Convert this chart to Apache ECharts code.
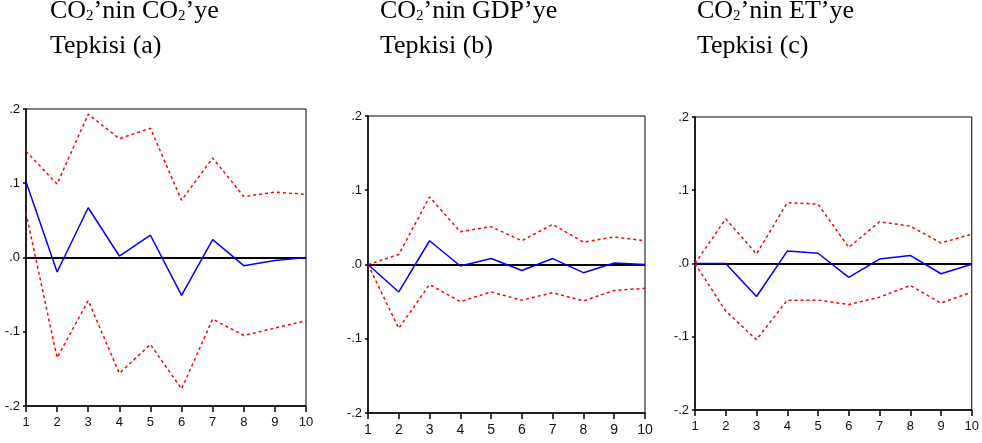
<!DOCTYPE html>
<html><head><meta charset="utf-8">
<script src="https://cdn.jsdelivr.net/npm/echarts@6/dist/echarts.min.js"></script>
<style>html,body{margin:0;padding:0;background:#fff}#c{width:982px;height:443px}</style>
</head><body><div id="c"></div>
<script>
const periods = ['1','2','3','4','5','6','7','8','9','10'];
const yTicks = [-0.2,-0.1,0,0.1,0.2];

// Panel (a): CO2 -> CO2
const respA  = [0.102,-0.0195,0.067,0.002,0.030,-0.051,0.024,-0.011,-0.004,0.000];
const upperA = [0.143,0.099,0.193,0.160,0.174,0.077,0.134,0.082,0.088,0.085];
const lowerA = [0.060,-0.135,-0.058,-0.156,-0.117,-0.177,-0.083,-0.105,-0.095,-0.085];
// Panel (b): CO2 -> GDP
const respB  = [0.000,-0.037,0.032,-0.002,0.008,-0.008,0.008,-0.011,0.002,0.000];
const upperB = [0.000,0.0135,0.091,0.044,0.051,0.032,0.054,0.030,0.037,0.032];
const lowerB = [0.000,-0.086,-0.027,-0.050,-0.037,-0.048,-0.038,-0.049,-0.035,-0.032];
// Panel (c): CO2 -> ET
const respC  = [0.000,0.000,-0.045,0.017,0.014,-0.019,0.006,0.011,-0.014,-0.001];
const upperC = [0.000,0.061,0.013,0.083,0.081,0.022,0.057,0.051,0.028,0.040];
const lowerC = [0.000,-0.065,-0.104,-0.050,-0.050,-0.056,-0.046,-0.030,-0.054,-0.039];

const titlesL1 = ['CO{s|2}’nin CO{s|2}’ye','CO{s|2}’nin GDP’ye','CO{s|2}’nin ET’ye'];
const titlesL2 = ['Tepkisi (a)','Tepkisi (b)','Tepkisi (c)'];

const panels = [
  {resp:respA, up:upperA, lo:lowerA, grid:{left:26, top:109, width:280, height:297}, tx:50, xfs:13},
  {resp:respB, up:upperB, lo:lowerB, grid:{left:368, top:116, width:277, height:297}, tx:380, xfs:14},
  {resp:respC, up:upperC, lo:lowerC, grid:{left:695, top:117, width:277, height:293}, tx:697, xfs:13}
];

const axisFont = '"Liberation Sans Narrow","Arial Narrow","Liberation Sans",sans-serif';
const serif = '"Liberation Serif","Times New Roman",serif';
const fmtY = v => { const n = Math.round(Math.abs(v)*10); return (v < -1e-9 ? '-' : '') + '.' + n; };

const option = {
  animation:false,
  backgroundColor:'#fff',
  title: [], grid: [], xAxis: [], yAxis: [], series: []
};

panels.forEach((p,i)=>{
  const ts = {fontFamily:serif, fontSize:26, fontWeight:'normal', color:'#000', lineHeight:26,
    rich:{ s:{ fontFamily:serif, fontSize:15, lineHeight:12, verticalAlign:'bottom', color:'#000' } }};
  option.title.push({ text: titlesL1[i], left:p.tx, top:-2, padding:0, textStyle:ts });
  option.title.push({ text: titlesL2[i], left:p.tx, top:33, padding:0, textStyle:ts });
  option.grid.push(Object.assign({show:true, borderColor:'#000', borderWidth:1, backgroundColor:'transparent'}, p.grid));
  option.xAxis.push({
    type:'category', gridIndex:i, data:periods, boundaryGap:false,
    axisLine:{show:true, onZero:false, lineStyle:{color:'#000', width:1.5}},
    axisTick:{show:true, alignWithLabel:true, length:6, lineStyle:{color:'#000', width:1.5}},
    axisLabel:{color:'#111', fontFamily:axisFont, fontSize:p.xfs, margin:10},
    splitLine:{show:false}
  });
  option.yAxis.push({
    type:'value', gridIndex:i, min:-0.2, max:0.2, interval:0.1,
    axisLine:{show:true, lineStyle:{color:'#000', width:1.5}},
    axisTick:{show:true, length:3, lineStyle:{color:'#000', width:1.5}},
    axisLabel:{color:'#111', fontFamily:axisFont, fontSize:13, margin:6, formatter:fmtY},
    splitLine:{show:false}
  });
  option.series.push({
    type:'line', xAxisIndex:i, yAxisIndex:i, data:p.up, showSymbol:false, symbol:'none',
    lineStyle:{color:'#ff0000', width:1.5, type:[3,3]}, z:3
  });
  option.series.push({
    type:'line', xAxisIndex:i, yAxisIndex:i, data:p.lo, showSymbol:false, symbol:'none',
    lineStyle:{color:'#ff0000', width:1.5, type:[3,3]}, z:3
  });
  option.series.push({
    type:'line', xAxisIndex:i, yAxisIndex:i, data:p.resp, showSymbol:false, symbol:'none',
    lineStyle:{color:'#0000ff', width:1.5}, z:4,
    markLine:{silent:true, symbol:'none', label:{show:false},
      lineStyle:{color:'#000', width:2, type:'solid'}, data:[{yAxis:0}], z:2}
  });
});

const chart = echarts.init(document.getElementById('c'), null, {renderer:'canvas'});
chart.setOption(option);
</script></body></html>
